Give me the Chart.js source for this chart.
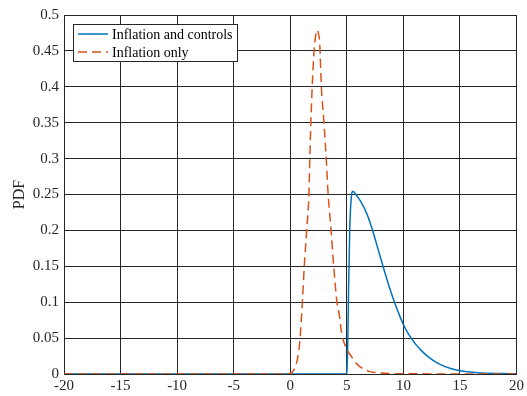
<!DOCTYPE html>
<html>
<head>
<meta charset="utf-8">
<script src="https://cdn.jsdelivr.net/npm/chart.js@4.4.1/dist/chart.umd.min.js"></script>
<style>
  html, body { margin: 0; padding: 0; background: #fff; }
  #wrap { width: 527px; height: 396px; }
</style>
</head>
<body>
<div id="wrap"><canvas id="pdfChart" width="527" height="396"></canvas></div>
<script>
// values
var ctrlX = [-20, 4.97, 5.0, 5.09, 5.17, 5.26, 5.38, 5.55, 5.81, 6.2, 6.8, 7.2, 7.54, 8.18, 8.7, 9.28, 9.71, 10.0, 10.43, 11.01, 11.53, 12.2, 13.1, 14.26, 15, 16.6, 18.7, 20];
var ctrlY = [0, 0, 0.002, 0.048, 0.132, 0.201, 0.243, 0.2546, 0.2496, 0.241, 0.222, 0.204, 0.186, 0.151, 0.124, 0.097, 0.0796, 0.069, 0.0563, 0.043, 0.0336, 0.0239, 0.0145, 0.0072, 0.0046, 0.0019, 0.0006, 0.0002];
var inflX = [-20, -1, 0, 0.29, 0.66, 0.87, 1.07, 1.24, 1.45, 1.65, 1.73, 1.82, 1.94, 2.11, 2.25, 2.37, 2.48, 2.6, 2.75, 2.98, 3.18, 3.35, 3.61, 3.84, 4.13, 4.36, 4.54, 4.9, 5.38, 5.95, 6.97, 8.1, 10, 20];
var inflY = [0, 0, 0.001, 0.005, 0.023, 0.05, 0.1, 0.15, 0.2, 0.25, 0.3, 0.35, 0.4, 0.45, 0.472, 0.479, 0.475, 0.462, 0.40, 0.35, 0.30, 0.25, 0.2, 0.15, 0.1, 0.08, 0.057, 0.038, 0.025, 0.013, 0.0037, 0.0014, 0.0003, 0];
var xTicks = [-20, -15, -10, -5, 0, 5, 10, 15, 20];
var yTicks = [0, 0.05, 0.1, 0.15, 0.2, 0.25, 0.3, 0.35, 0.4, 0.45, 0.5];
var seriesNames = ["Inflation and controls", "Inflation only"];

function pts(xs, ys) {
    return xs.map(function(x, i) { return { x: x, y: ys[i] }; });
}

var serif = "'Liberation Serif', 'Times New Roman', serif";

// legend box drawn inside the plot, top-left, like matlab
var boxLegend = {
    id: "boxLegend",
    afterDraw: function(chart) {
        var c = chart.ctx, a = chart.chartArea;
        var x0 = a.left + 9, y0 = a.top + 9, w = 164, h = 37;
        c.save();
        c.fillStyle = "#fff";
        c.fillRect(x0, y0, w, h);
        c.strokeStyle = "#262626";
        c.lineWidth = 1;
        c.strokeRect(x0 + 0.5, y0 + 0.5, w, h);
        c.font = "14px " + serif;
        c.textBaseline = "middle";
        chart.data.datasets.forEach(function(ds, i) {
            var yy = y0 + 10 + i * 18;
            c.strokeStyle = ds.borderColor;
            c.lineWidth = 1.5;
            c.setLineDash(ds.borderDash || []);
            c.beginPath();
            c.moveTo(x0 + 5, yy);
            c.lineTo(x0 + 35, yy);
            c.stroke();
            c.setLineDash([]);
            c.fillStyle = "#000";
            c.fillText(ds.label, x0 + 39, yy + 1);
        });
        c.restore();
    }
};

var ctx = document.getElementById("pdfChart").getContext("2d");
var pdfChart = new Chart(ctx, {
    type: "line",
    data: {
        datasets: [{
            label: seriesNames[0],
            data: pts(ctrlX, ctrlY),
            borderColor: "#0072BD",
            borderWidth: 1.5,
            pointRadius: 0,
            cubicInterpolationMode: "monotone",
            fill: false,
            order: 1
        }, {
            label: seriesNames[1],
            data: pts(inflX, inflY),
            borderColor: "#D95319",
            borderWidth: 1.5,
            borderDash: [9, 5],
            pointRadius: 0,
            cubicInterpolationMode: "monotone",
            fill: false,
            order: 0
        }]
    },
    options: {
        responsive: false,
        animation: false,
        layout: { padding: { top: 15, right: 9, left: 10, bottom: 0 } },
        plugins: { legend: { display: false }, tooltip: { enabled: false } },
        scales: {
            x: {
                type: "linear",
                min: -20, max: 20,
                afterBuildTicks: function(s) { s.ticks = xTicks.map(function(v) { return { value: v }; }); },
                afterFit: function(s) { s.height = 22; },
                grid: { color: "#262626", lineWidth: 1, drawTicks: false },
                border: { color: "#262626", width: 1 },
                ticks: {
                    color: "#262626", padding: 3, maxRotation: 0,
                    font: { family: serif, size: 15 },
                    callback: function(v) { return String(v); }
                }
            },
            y: {
                min: 0, max: 0.5,
                afterBuildTicks: function(s) { s.ticks = yTicks.map(function(v) { return { value: v }; }); },
                afterFit: function(s) { s.width = 54; },
                grid: { color: "#262626", lineWidth: 1, drawTicks: false },
                border: { color: "#262626", width: 1 },
                title: { display: true, text: "PDF", color: "#262626", padding: 0, font: { family: serif, size: 16 } },
                ticks: {
                    color: "#262626", padding: 5,
                    font: { family: serif, size: 15 },
                    callback: function(v) { return String(v); }
                }
            }
        }
    },
    plugins: [boxLegend]
});
</script>
</body>
</html>
